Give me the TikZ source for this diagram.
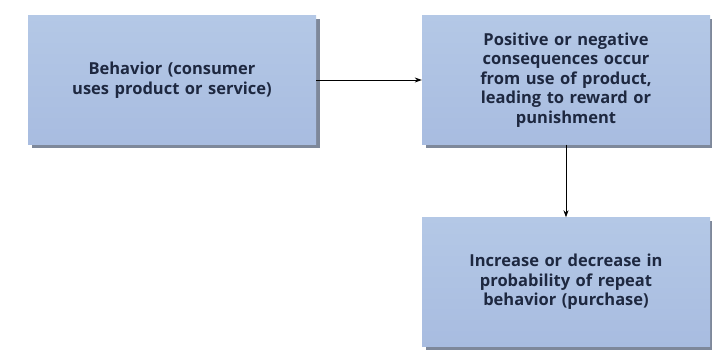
\documentclass[tikz,border=0pt]{standalone}
\usepackage{fontspec}
\setmainfont{Open Sans}
\usetikzlibrary{shadows,arrows.meta}
\definecolor{boxfill}{HTML}{A8BCE0}
\definecolor{boxtop}{HTML}{B4C8E6}
\definecolor{shadowc}{HTML}{707C90}
\definecolor{txt}{HTML}{1E2840}
\begin{document}
\begin{tikzpicture}[x=1pt,y=1pt,
  box/.style={draw=none, top color=boxtop, bottom color=boxfill, minimum width=288pt, minimum height=129pt,
    inner sep=0pt, align=center, text width=250pt, text=txt,
    font=\fontsize{16.5}{19.5}\selectfont\bfseries,
    drop shadow={shadow xshift=3.5pt, shadow yshift=-3.5pt, fill=shadowc, opacity=0.9}},
  conn/.style={draw=black, line width=0.8pt, -{Stealth[length=7pt,width=5pt]}}]
\useasboundingbox[fill=white] (0,0) rectangle (712,-351);
\node[box] (b1) at (172,-80) {Behavior (consumer\\uses product or service)};
\node[box] (b2) at (566,-80) {Positive or negative\\consequences occur\\from use of product,\\leading to reward or\\punishment};
\node[box] (b3) at (566,-282) {Increase or decrease in\\probability of repeat\\behavior (purchase)};
\draw[conn] (b1.east) -- (b2.west);
\draw[conn] (b2.south) -- (b3.north);
\end{tikzpicture}
\end{document}
